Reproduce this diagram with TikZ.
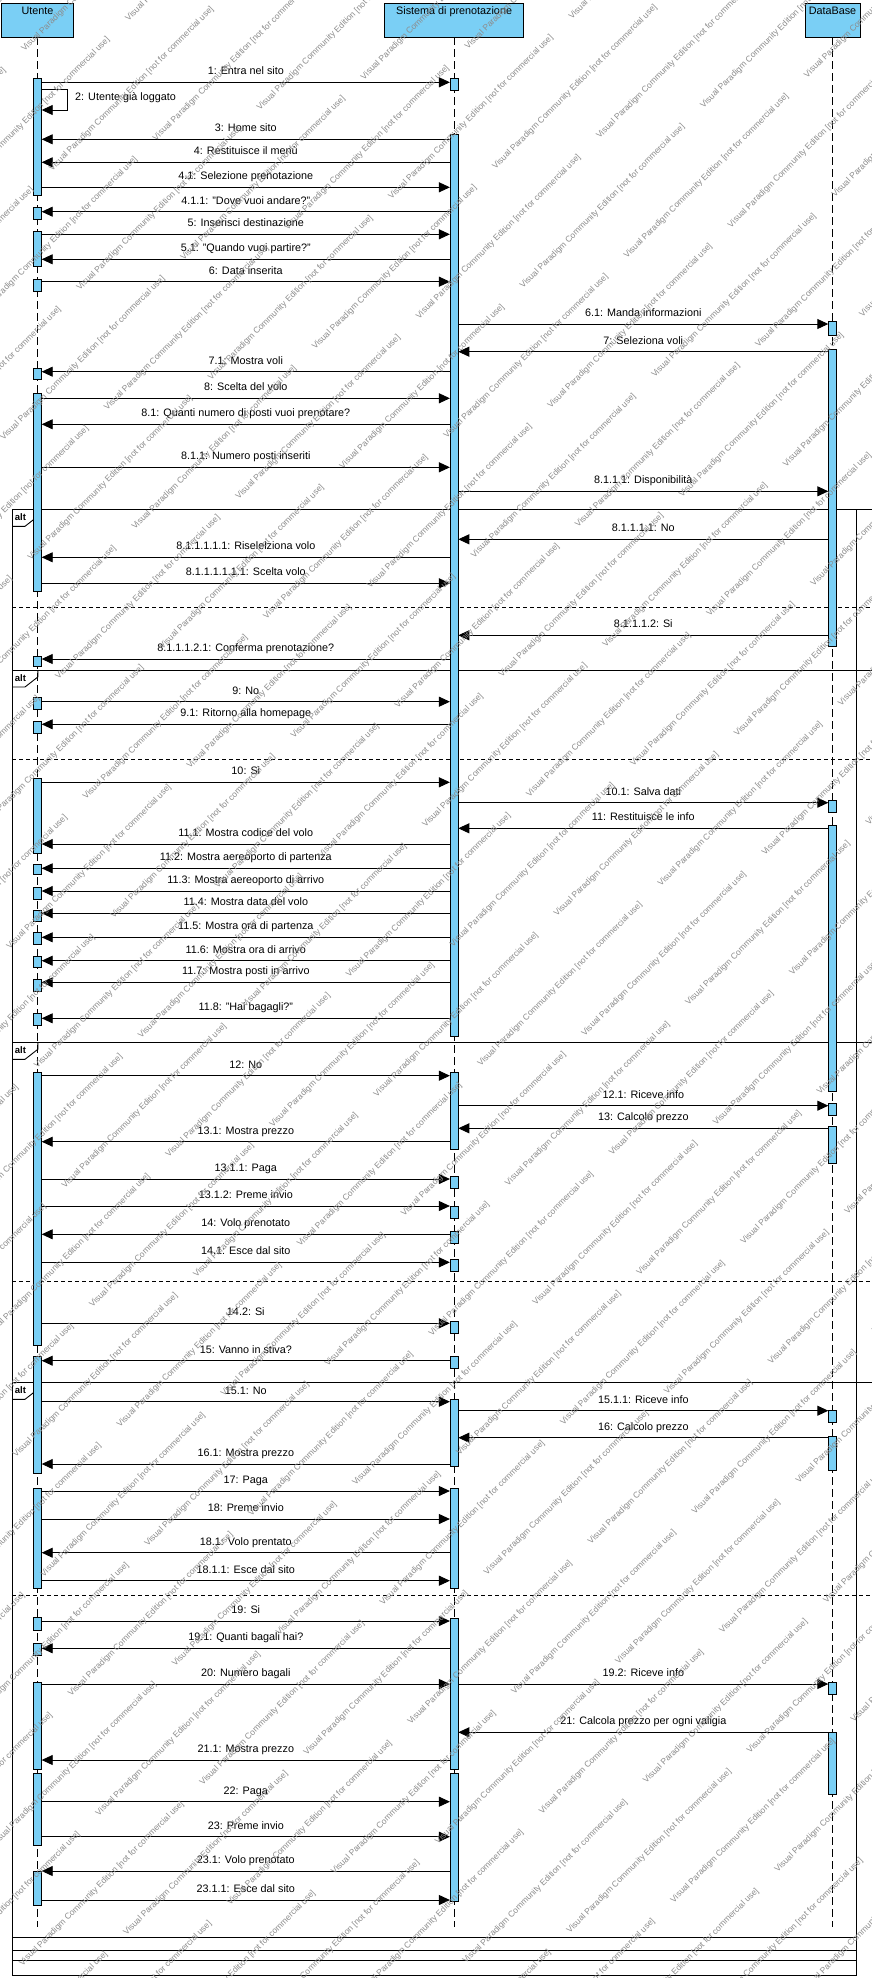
\documentclass[tikz,border=0pt]{standalone}
\usepackage{fontspec}
\setmainfont{Liberation Sans}
\usetikzlibrary{arrows.meta}
\definecolor{actblue}{RGB}{122,207,245}
\definecolor{wmgray}{RGB}{140,140,140}
\newcommand{\posU}{37.5}
\newcommand{\posS}{454.1}
\newcommand{\posD}{832.5}
\newcommand{\Ur}{41.7}
\newcommand{\Sl}{449.9}
\newcommand{\Sr}{458.3}
\newcommand{\Dl}{828.3}
\tikzset{
  head/.style={draw=black, fill=actblue, line width=0.8pt, minimum height=34pt, inner sep=0pt},
  headtext/.style={font=\fontsize{10.8}{12}\selectfont, inner sep=0pt, anchor=base},
  lifeline/.style={draw=black, line width=0.7pt, dash pattern=on 8pt off 4pt},
  act/.style={draw=black, fill=actblue, line width=0.8pt},
  msgline/.style={draw=black, line width=0.9pt, -{Triangle[length=11pt,width=10pt]}},
  lbl/.style={font=\fontsize{10.8}{12}\selectfont, inner sep=0pt, anchor=base},
  frameline/.style={draw=black, line width=0.9pt},
  sepline/.style={draw=black, line width=0.9pt, dash pattern=on 4pt off 3pt},
  altlbl/.style={font=\bfseries\fontsize{9.5}{11}\selectfont, inner sep=0pt, anchor=base},
  wm/.style={font=\fontsize{8.5}{10}\selectfont, text=wmgray, rotate=45, inner sep=0pt},
}
\newcommand{\msg}[5]{%
  \coordinate (#1a) at (#3,-#2);
  \coordinate (#1b) at (#4,-#2);
  \draw[msgline] (#1a) -- (#1b) node[lbl, midway, yshift=7.5pt, name=#1l] {#5};
}
\newcommand{\altlabel}[2]{%
  \draw[frameline] (12.2,-#2-17) -- (25,-#2-17) -- (37.8,-#2-7) -- (37.8,-#2);
  \node[altlbl] (#1) at (20.5,-#2-11) {alt};
}
\begin{document}
\begin{tikzpicture}[x=1pt,y=1pt]
\useasboundingbox (0,0) rectangle (872,-1978);
\fill[white] (0,0) rectangle (872,-1978);

% ---------- combined fragments ----------
\draw[frameline] (12.2,-509.3) -- (12.2,-1975.7) -- (856.5,-1975.7) -- (856.5,-509.3);
\draw[frameline] (12.2,-509.3) -- (872,-509.3);
\draw[frameline] (12.2,-670) -- (872,-670);
\draw[frameline] (12.2,-1042.3) -- (872,-1042.3);
\draw[frameline] (12.2,-1382.3) -- (872,-1382.3);
\draw[frameline] (12.2,-1960.7) -- (856.5,-1960.7);
\draw[frameline] (12.2,-1950.7) -- (856.5,-1950.7);
\draw[frameline] (12.2,-1937.3) -- (856.5,-1937.3);
\draw[sepline] (12.2,-607.7) -- (872,-607.7);
\draw[sepline] (12.2,-759.3) -- (872,-759.3);
\draw[sepline] (12.2,-1281.7) -- (872,-1281.7);
\draw[sepline] (12.2,-1595) -- (872,-1595);
\altlabel{alt1}{509.3}
\altlabel{alt2}{670}
\altlabel{alt3}{1042.3}
\altlabel{alt4}{1382.3}

% ---------- lifelines ----------
\node[head, minimum width=72pt] (U) at (\posU,-20) {};
\node[head, minimum width=139pt] (S) at (\posS,-20) {};
\node[head, minimum width=55pt] (D) at (\posD,-20) {};
\node[headtext] (Ut) at (\posU,-14) {Utente};
\node[headtext] (St) at (\posS,-14) {Sistema di prenotazione};
\node[headtext] (Dt) at (\posD,-14) {DataBase};
\coordinate (Uend) at (\posU,-1927);
\coordinate (Send) at (\posS,-1927);
\coordinate (Dend) at (\posD,-1927);
\draw[lifeline] (U.south) -- (Uend);
\draw[lifeline] (S.south) -- (Send);
\draw[lifeline] (D.south) -- (Dend);

% ---------- activations ----------
\foreach \a/\b in {78.3/195, 207.3/219, 231/266.7, 279/291, 368.3/379.3, 393.3/591, 656.3/666.7, 697.7/709.3, 721/733.3, 778.3/853.3, 864/874.3, 887.3/899, 910.7/921.7, 932.3/944, 956/967.7, 979/991.7, 1013.3/1025, 1072.7/1345, 1356.7/1473.3, 1488.3/1588.3, 1617.7/1630.7, 1643.3/1655, 1682.3/1769, 1773.3/1845.7, 1871.7/1905.7}
  \draw[act] (\posU-4.2,-\a) rectangle (\posU+4.2,-\b);
\foreach \a/\b in {78/90.7, 134.3/1036.7, 1072.7/1149.3, 1176/1188.3, 1206/1218.3, 1231/1243.3, 1259.3/1271.7, 1321/1333.3, 1356/1368.3, 1399.3/1466.7, 1488.3/1588.3, 1618.3/1769, 1773.3/1901}
  \draw[act] (\posS-4.2,-\a) rectangle (\posS+4.2,-\b);
\foreach \a/\b in {321.7/335, 349.3/646, 800/812.7, 825.7/1091.7, 1103.3/1115, 1126/1163.3, 1410/1422.3, 1436/1470, 1682.3/1694.3, 1732.3/1794.3}
  \draw[act] (\posD-4.2,-\a) rectangle (\posD+4.2,-\b);

% ---------- messages ----------
\msg{m01}{82.3}{\Ur}{\Sl}{1: Entra nel sito}
\coordinate (m02a) at (\Ur,-89.3);
\coordinate (m02b) at (\Ur,-110);
\draw[msgline] (m02a) -- ++(26.2,0) |- (m02b);
\node[lbl, anchor=west] (m02l) at (75,-98) {2: Utente già loggato};
\msg{m03}{139.3}{\Sl}{\Ur}{3: Home sito}
\msg{m04}{162.3}{\Sl}{\Ur}{4: Restituisce il menù}
\msg{m05}{187.3}{\Ur}{\Sl}{4.1: Selezione prenotazione}
\msg{m06}{211.7}{\Sl}{\Ur}{4.1.1: "Dove vuoi andare?"}
\msg{m07}{234.3}{\Ur}{\Sl}{5: Inserisci destinazione}
\msg{m08}{259.3}{\Sl}{\Ur}{5.1: "Quando vuoi partire?"}
\msg{m09}{281.7}{\Ur}{\Sl}{6: Data inserita}
\msg{m10}{324}{\Sr}{\Dl}{6.1: Manda informazioni}
\msg{m11}{351.7}{\Dl}{\Sr}{7: Seleziona voli}
\msg{m12}{371.7}{\Sl}{\Ur}{7.1: Mostra voli}
\msg{m13}{398.3}{\Ur}{\Sl}{8: Scelta del volo}
\msg{m14}{424.3}{\Sl}{\Ur}{8.1: Quanti numero di posti vuoi prenotare?}
\msg{m15}{467.3}{\Ur}{\Sl}{8.1.1: Numero posti inseriti}
\msg{m16}{491.3}{\Sr}{\Dl}{8.1.1.1: Disponibilità}
\msg{m17}{539.3}{\Dl}{\Sr}{8.1.1.1.1: No}
\msg{m18}{557.3}{\Sl}{\Ur}{8.1.1.1.1.1: Riselelziona volo}
\msg{m19}{583.3}{\Ur}{\Sl}{8.1.1.1.1.1.1: Scelta volo}
\msg{m20}{635.3}{\Dl}{\Sr}{8.1.1.1.2: Si}
\msg{m21}{659}{\Sl}{\Ur}{8.1.1.1.2.1: Conferma prenotazione?}
\msg{m22}{701.7}{\Ur}{\Sl}{9: No}
\msg{m23}{724.3}{\Sl}{\Ur}{9.1: Ritorno alla homepage}
\msg{m24}{782.3}{\Ur}{\Sl}{10: Si}
\msg{m25}{802.7}{\Sr}{\Dl}{10.1: Salva dati}
\msg{m26}{828.3}{\Dl}{\Sr}{11: Restituisce le info}
\msg{m27}{844}{\Sl}{\Ur}{11.1: Mostra codice del volo}
\msg{m28}{868.3}{\Sl}{\Ur}{11.2: Mostra aereoporto di partenza}
\msg{m29}{891}{\Sl}{\Ur}{11.3: Mostra aereoporto di arrivo}
\msg{m30}{913.3}{\Sl}{\Ur}{11.4: Mostra data del volo}
\msg{m31}{937.3}{\Sl}{\Ur}{11.5: Mostra ora di partenza}
\msg{m32}{960.7}{\Sl}{\Ur}{11.6: Mostra ora di arrivo}
\msg{m33}{982.3}{\Sl}{\Ur}{11.7: Mostra posti in arrivo}
\msg{m34}{1018.3}{\Sl}{\Ur}{11.8: "Hai bagagli?"}
\msg{m35}{1075.7}{\Ur}{\Sl}{12: No}
\msg{m36}{1105.7}{\Sr}{\Dl}{12.1: Riceve info}
\msg{m37}{1128.3}{\Dl}{\Sr}{13: Calcolo prezzo}
\msg{m38}{1141.7}{\Sl}{\Ur}{13.1: Mostra prezzo}
\msg{m39}{1179}{\Ur}{\Sl}{13.1.1: Paga}
\msg{m40}{1206}{\Ur}{\Sl}{13.1.2: Preme invio}
\msg{m41}{1234.3}{\Sl}{\Ur}{14: Volo prenotato}
\msg{m42}{1262.3}{\Ur}{\Sl}{14.1: Esce dal sito}
\msg{m43}{1323.3}{\Ur}{\Sl}{14.2: Si}
\msg{m44}{1360.7}{\Sl}{\Ur}{15: Vanno in stiva?}
\msg{m45}{1401.7}{\Ur}{\Sl}{15.1: No}
\msg{m46}{1410.7}{\Sr}{\Dl}{15.1.1: Riceve info}
\msg{m47}{1437.7}{\Dl}{\Sr}{16: Calcolo prezzo}
\msg{m48}{1464}{\Sl}{\Ur}{16.1: Mostra prezzo}
\msg{m49}{1491}{\Ur}{\Sl}{17: Paga}
\msg{m50}{1519}{\Ur}{\Sl}{18: Preme invio}
\msg{m51}{1552.7}{\Sl}{\Ur}{18.1: Volo prentato}
\msg{m52}{1580.7}{\Ur}{\Sl}{18.1.1: Esce dal sito}
\msg{m53}{1621}{\Ur}{\Sl}{19: Si}
\msg{m54}{1648.3}{\Sl}{\Ur}{19.1: Quanti bagali hai?}
\msg{m55}{1684}{\Ur}{\Sl}{20: Numero bagali}
\msg{m56}{1684}{\Sr}{\Dl}{19.2: Riceve info}
\msg{m57}{1732.3}{\Dl}{\Sr}{21: Calcola prezzo per ogni valigia}
\msg{m58}{1760}{\Sl}{\Ur}{21.1: Mostra prezzo}
\msg{m59}{1801.7}{\Ur}{\Sl}{22: Paga}
\msg{m60}{1836.7}{\Ur}{\Sl}{23: Preme invio}
\msg{m61}{1871}{\Sl}{\Ur}{23.1: Volo prenotato}
\msg{m62}{1900}{\Ur}{\Sl}{23.1.1: Esce dal sito}

% ---------- watermark ----------
\begin{scope}
\clip (0,0) rectangle (872,-1978);
\foreach \j in {-2,...,42}{
  \foreach \k in {-7,...,4}{
    \pgfmathsetmacro{\wa}{\k*255+mod(\j*95,255)}
    \pgfmathsetmacro{\wb}{\j*52}
    \node[wm] (wm-\j-\k) at ({0.7071*(\wa+\wb)},{0.7071*(\wa-\wb)}) {Visual Paradigm Community Edition [not for commercial use]};
  }
}
\end{scope}
\end{tikzpicture}
\end{document}
